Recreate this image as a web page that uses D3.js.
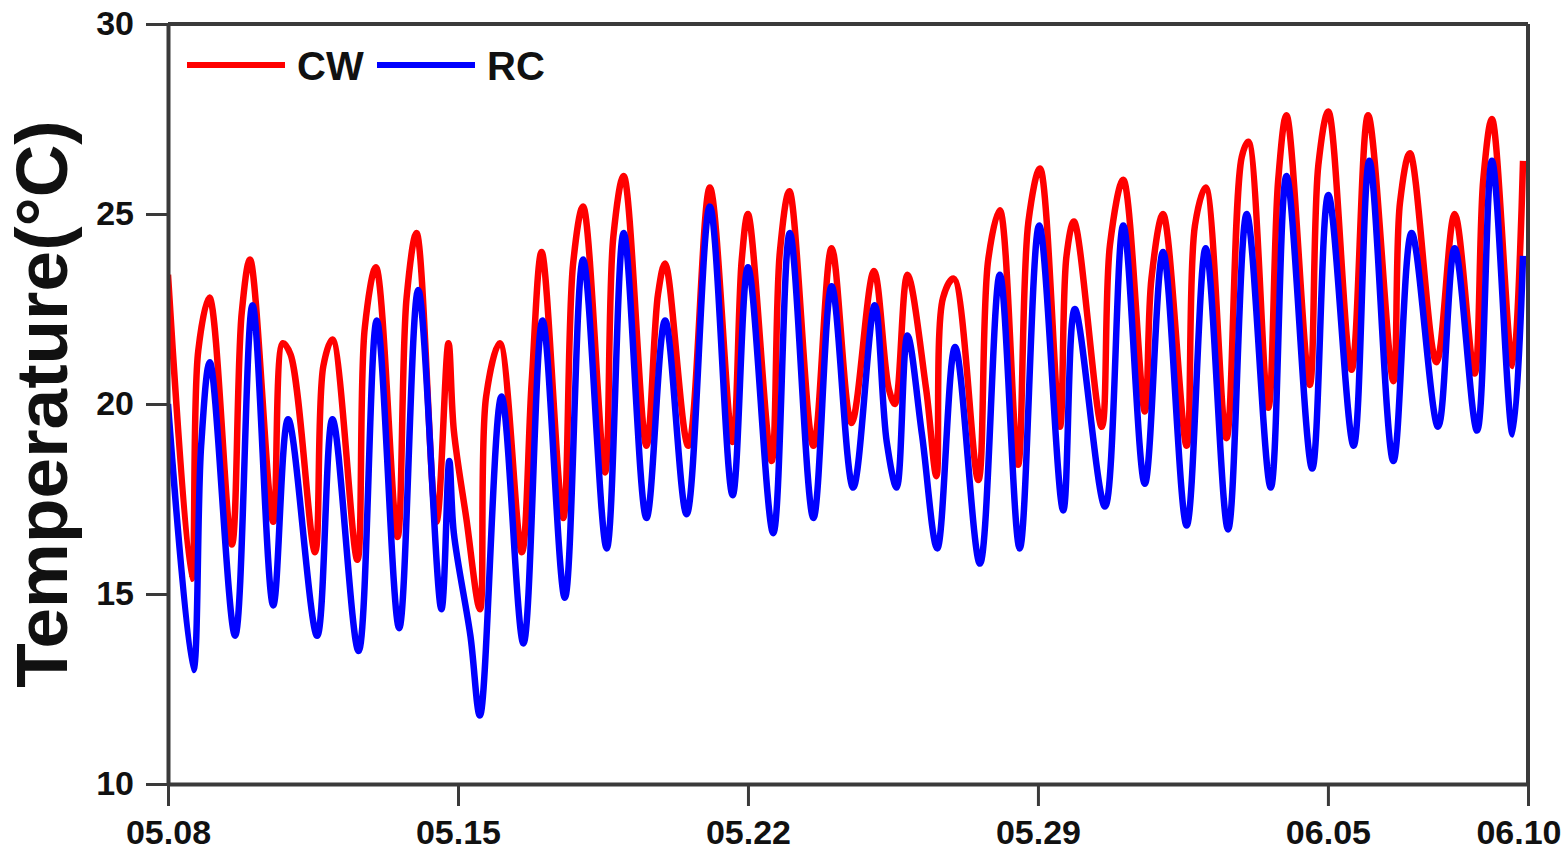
<!DOCTYPE html>
<html lang="en">
<head>
<meta charset="utf-8">
<title>Temperature CW vs RC</title>
<script src="https://cdn.jsdelivr.net/npm/d3@7/dist/d3.min.js"></script>
<style>
  body { margin: 0; background: #fff; }
  .axis path, .axis line { fill: none; stroke: #3a3a3a; }
  .axis text { font-family: "Liberation Sans", Arial, sans-serif; font-size: 34px; font-weight: bold; fill: #111; }
  .legend text { font-family: "Liberation Sans", Arial, sans-serif; font-size: 40px; font-weight: bold; fill: #111; }
</style>
</head>
<body>
<script>
  // chart size and plot box
  var w = 1563, h = 858;
  var plotLeft = 168, plotRight = 1528, plotTop = 24, plotBottom = 784;

  // x values are days after 05.08 00:00
  var tickDays = [0, 7, 14, 21, 28, 32.83];
  var tickLabels = ["05.08", "05.15", "05.22", "05.29", "06.05", "06.10"];
  var yTicks = [10, 15, 20, 25, 30];

  // CW series (red)
  var cwDays = [0, 0.57, 0.73, 1.0, 1.54, 1.78, 1.98, 2.54, 2.77, 2.96, 3.55, 3.75, 3.97,
    4.57, 4.75, 5.02, 5.54, 5.76, 6.0, 6.48, 6.77, 6.9, 7.2, 7.53, 7.68, 8.01, 8.54, 8.78, 9.02,
    9.54, 9.78, 10.02, 10.55, 10.75, 11.0, 11.55, 11.83, 12.0, 12.56, 13.08, 13.63, 13.85, 14.0,
    14.57, 14.77, 15.0, 15.58, 16.02, 16.5, 17.04, 17.4, 17.55, 17.85, 18.3, 18.55, 18.71, 18.97,
    19.56, 19.8, 20.08, 20.52, 20.77, 21.05, 21.53, 21.69, 21.87, 22.54, 22.74, 23.06, 23.58,
    23.74, 24.02, 24.59, 24.79, 25.05, 25.55, 25.92, 26.08, 26.56, 26.8, 27.0, 27.56, 27.77,
    28.01, 28.57, 28.97, 29.58, 29.74, 29.98, 30.62, 31.06, 31.54, 31.75, 31.96, 32.46, 32.71];
  var cwTemp = [23.4, 15.4, 21.4, 22.8, 16.3, 22.4, 23.8, 16.9, 21.6, 21.3, 16.1, 21.0, 21.7,
    15.9, 22.0, 23.6, 16.5, 22.8, 24.5, 16.9, 21.6, 19.3, 17.0, 14.6, 20.2, 21.6, 16.1, 20.6, 24.0,
    17.0, 23.7, 25.2, 18.2, 24.4, 26.0, 18.9, 22.9, 23.7, 18.9, 25.7, 19.0, 23.8, 25.0,
    18.5, 24.0, 25.6, 18.9, 24.1, 19.5, 23.5, 20.4, 20.0, 23.4, 20.4, 18.1, 22.8, 23.3,
    18.0, 23.8, 25.1, 18.4, 24.8, 26.2, 19.4, 23.9, 24.8, 19.4, 24.2, 25.9, 19.8,
    23.3, 25.0, 18.9, 24.7, 25.7, 19.1, 26.5, 26.9, 19.9, 25.9, 27.6, 20.5, 26.3,
    27.7, 20.9, 27.6, 20.6, 25.3, 26.6, 21.1, 25.0, 20.8, 25.9, 27.5, 21.0, 26.4];

  // RC series (blue)
  var rcDays = [0, 0.61, 0.8, 1.01, 1.62, 2.04, 2.54, 2.9, 3.6, 3.97, 4.6, 5.04, 5.58, 6.04,
    6.6, 6.79, 6.9, 7.3, 7.53, 8.05, 8.58, 9.04, 9.58, 10.02, 10.59, 11.0, 11.55, 12.0, 12.52,
    13.08, 13.63, 14.0, 14.61, 15.01, 15.58, 16.02, 16.54, 17.06, 17.35, 17.59, 17.85, 18.2,
    18.57, 19.0, 19.6, 20.08, 20.56, 21.03, 21.61, 21.89, 22.62, 23.06, 23.58, 24.02, 24.59,
    25.05, 25.59, 26.04, 26.62, 27.0, 27.62, 28.01, 28.62, 29.0, 29.58, 30.02, 30.66, 31.06,
    31.6, 31.96, 32.46, 32.71];
  var rcTemp = [20.0, 13.0, 18.9, 21.1, 13.9, 22.6, 14.7, 19.6, 13.9, 19.6, 13.5, 22.2, 14.1, 23.0,
    14.6, 18.5, 16.6, 13.9, 11.8, 20.2, 13.7, 22.2, 14.9, 23.8, 16.2, 24.5, 17.0, 22.2, 17.1,
    25.2, 17.6, 23.6, 16.6, 24.5, 17.0, 23.1, 17.8, 22.6, 19.0, 17.8, 21.8, 19.2,
    16.2, 21.5, 15.8, 23.4, 16.2, 24.7, 17.2, 22.5, 17.3, 24.7, 17.9, 24.0, 16.8,
    24.1, 16.7, 25.0, 17.8, 26.0, 18.3, 25.5, 18.9, 26.4, 18.5, 24.5, 19.4, 24.1,
    19.3, 26.4, 19.2, 23.9];

  var svg = d3.select("body").append("svg").attr("width", w).attr("height", h);

  var x = d3.scaleLinear().domain([0, 32.83]).range([plotLeft, plotRight]);
  var y = d3.scaleLinear().domain([10, 30]).range([plotBottom, plotTop]);

  svg.append("defs").append("clipPath").attr("id", "plot")
    .append("rect").attr("x", plotLeft).attr("y", plotTop)
    .attr("width", plotRight - plotLeft).attr("height", plotBottom - plotTop);

  var line = d3.line()
    .x(function(d) { return x(d[0]); })
    .y(function(d) { return y(d[1]); })
    .curve(d3.curveCatmullRom.alpha(0.5));

  var series = [
    { name: "CW", color: "#ff0000", pts: d3.zip(cwDays, cwTemp) },
    { name: "RC", color: "#0000ff", pts: d3.zip(rcDays, rcTemp) }
  ];

  svg.append("g").attr("clip-path", "url(#plot)")
    .selectAll("path").data(series).enter().append("path")
    .attr("d", function(d) { return line(d.pts); })
    .attr("fill", "none")
    .attr("stroke", function(d) { return d.color; })
    .attr("stroke-width", 6.5)
    .attr("stroke-linejoin", "round");

  // box: top and right borders
  svg.append("line").attr("x1", plotLeft).attr("x2", plotRight).attr("y1", plotTop).attr("y2", plotTop)
    .attr("stroke", "#3a3a3a").attr("stroke-width", 4);
  svg.append("line").attr("x1", plotRight).attr("x2", plotRight).attr("y1", plotTop).attr("y2", plotBottom)
    .attr("stroke", "#3a3a3a").attr("stroke-width", 4);

  var xAxis = d3.axisBottom(x).tickValues(tickDays)
    .tickFormat(function(d, i) { return tickLabels[i]; })
    .tickSize(22).tickSizeOuter(0).tickPadding(14);
  var gx = svg.append("g").attr("class", "axis")
    .attr("transform", "translate(0," + plotBottom + ")").call(xAxis);
  gx.select(".domain").attr("stroke-width", 4);
  gx.selectAll(".tick line").attr("stroke-width", 3);
  // last label sits against the right edge
  gx.selectAll(".tick text").filter(function(d, i) { return i === tickDays.length - 1; })
    .attr("text-anchor", "end").attr("dx", 33);

  var yAxis = d3.axisLeft(y).tickValues(yTicks)
    .tickSize(22).tickSizeOuter(0).tickPadding(12);
  var gy = svg.append("g").attr("class", "axis")
    .attr("transform", "translate(" + plotLeft + ",0)").call(yAxis);
  gy.select(".domain").attr("stroke-width", 4);
  gy.selectAll(".tick line").attr("stroke-width", 3);

  // y title
  svg.append("text")
    .attr("transform", "translate(67," + ((plotTop + plotBottom) / 2) + ") rotate(-90)")
    .attr("text-anchor", "middle")
    .style("font-family", "'Liberation Sans', Arial, sans-serif")
    .style("font-size", "73px").style("font-weight", "bold").style("fill", "#111")
    .text("Temperature(°C)");

  // legend
  var legX = [187, 377];
  var lg = svg.append("g").attr("class", "legend");
  series.forEach(function(s, i) {
    lg.append("line").attr("x1", legX[i]).attr("x2", legX[i] + 98)
      .attr("y1", 65).attr("y2", 65).attr("stroke", s.color).attr("stroke-width", 6);
    lg.append("text").attr("x", legX[i] + 110).attr("y", 80).text(s.name);
  });
</script>
</body>
</html>
